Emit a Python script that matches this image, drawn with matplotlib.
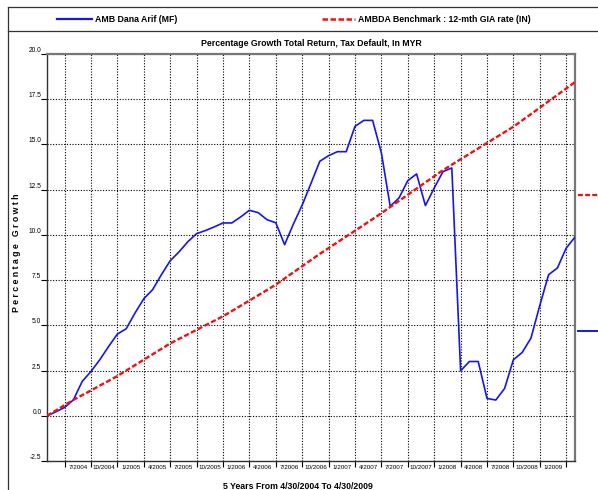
import numpy as np
import matplotlib
matplotlib.use('Agg')
import matplotlib.pyplot as plt
from matplotlib.lines import Line2D

plt.rcParams['font.family'] = ['Liberation Sans Narrow', 'Liberation Sans', 'DejaVu Sans']

# month index 0 = 4/30/2004 ... 60 = 4/30/2009
months = np.arange(61)

fund = [0.00, 0.22, 0.46, 0.88, 1.90, 2.45, 3.10, 3.83, 4.52, 4.81,
        5.68, 6.47, 6.97, 7.80, 8.57, 9.06, 9.62, 10.07, 10.24, 10.44,
        10.66, 10.66, 10.99, 11.36, 11.23, 10.84, 10.67, 9.46, 10.60, 11.65,
        12.85, 14.07, 14.38, 14.60, 14.60, 16.00, 16.33, 16.33, 14.53, 11.58,
        12.04, 13.00, 13.37, 11.62, 12.59, 13.50, 13.70, 2.49, 3.00, 3.00,
        0.96, 0.87, 1.51, 3.10, 3.50, 4.30, 6.10, 7.80, 8.17, 9.27,
        9.88]

bench = [0.00, 0.29, 0.59, 0.88, 1.14, 1.40, 1.67, 1.93, 2.20, 2.50,
         2.80, 3.10, 3.40, 3.70, 4.00, 4.25, 4.50, 4.75, 5.00, 5.25,
         5.50, 5.79, 6.08, 6.37, 6.66, 6.95, 7.25, 7.59, 7.93, 8.27,
         8.61, 8.95, 9.27, 9.59, 9.91, 10.23, 10.55, 10.87, 11.20, 11.54,
         11.88, 12.22, 12.56, 12.90, 13.24, 13.58, 13.88, 14.18, 14.48, 14.78,
         15.08, 15.38, 15.68, 15.98, 16.33, 16.68, 17.03, 17.39, 17.74, 18.09,
         18.45]

quarter_labels = ['7/2004', '10/2004', '1/2005', '4/2005', '7/2005', '10/2005',
                  '1/2006', '4/2006', '7/2006', '10/2006', '1/2007', '4/2007',
                  '7/2007', '10/2007', '1/2008', '4/2008', '7/2008', '10/2008',
                  '1/2009']
quarter_ticks = [2 + 3 * i for i in range(len(quarter_labels) + 1)]
label_pos = [t + 1.5 for t in quarter_ticks[:-1]]

ytick_vals = [-2.5, 0.0, 2.5, 5.0, 7.5, 10.0, 12.5, 15.0, 17.5, 20.0]

fig = plt.figure(figsize=(5.98, 4.90), dpi=100)
ax = fig.add_axes([47 / 598, 1 - 461 / 490, 528 / 598, 407 / 490])

ax.plot(months, fund, color='#1515ee', lw=1.2, zorder=3)
ax.plot(months, bench, color='#ee1111', lw=1.7, dashes=(2.2, 1.0), zorder=3)

ax.set_xlim(0, 60)
ax.set_ylim(-2.5, 20)

ax.set_xticks(quarter_ticks)
ax.set_xticklabels([])
ax.set_xticks(label_pos, minor=True)
ax.set_xticklabels(quarter_labels, minor=True, fontsize=4.5)
ax.tick_params(axis='x', which='major', length=4, width=0.8, direction='out')
ax.tick_params(axis='x', which='minor', length=0, pad=3)

ax.set_yticks(ytick_vals)
ax.set_yticklabels(['%.1f' % v for v in ytick_vals], fontsize=4.8)
for lab in ax.get_yticklabels():
    lab.set_verticalalignment('bottom')
ax.tick_params(axis='y', length=4, width=0.8, pad=0)

ax.grid(True, which='major', linestyle=(0, (1, 1.5)), color='black', lw=0.8)

for side in ['left', 'bottom']:
    ax.spines[side].set_color('#333333')
    ax.spines[side].set_linewidth(1.0)
for side in ['top', 'right']:
    ax.spines[side].set_color('#777777')
    ax.spines[side].set_linewidth(1.6)

ax.set_title('Percentage Growth Total Return, Tax Default, In MYR',
             fontsize=6.3, fontweight='bold', pad=6)
fig.text(298 / 598, 1 - 486 / 490, '5 Years From 4/30/2004 To 4/30/2009',
         ha='center', va='center', fontsize=6.3, fontweight='bold')
fig.text(17 / 598, 1 - 253 / 490, 'P e r c e n t a g e   G r o w t h',
         rotation=90, ha='center', va='center', fontsize=6.3, fontweight='bold')

# outer frame and legend strip
fig.add_artist(Line2D([8 / 598, 8 / 598], [0, 1 - 7 / 490], color='#333333', lw=0.9))
fig.add_artist(Line2D([8 / 598, 1], [1 - 7 / 490, 1 - 7 / 490], color='#333333', lw=0.9))
fig.add_artist(Line2D([8 / 598, 1], [1 - 31 / 490, 1 - 31 / 490], color='#333333', lw=0.9))

fig.add_artist(Line2D([57 / 598, 92 / 598], [1 - 19 / 490, 1 - 19 / 490],
                      color='#1515ee', lw=1.6))
fig.text(95 / 598, 1 - 19 / 490, 'AMB Dana Arif (MF)', fontsize=6.3,
         fontweight='bold', va='center')
fig.add_artist(Line2D([322 / 598, 355 / 598], [1 - 19 / 490, 1 - 19 / 490],
                      color='#ee1111', lw=1.8, dashes=(2.2, 1.0)))
fig.text(358 / 598, 1 - 19 / 490, 'AMBDA Benchmark : 12-mth GIA rate (IN)',
         fontsize=6.3, fontweight='bold', va='center')

# end markers cut off at the right edge
fig.add_artist(Line2D([578 / 598, 1], [1 - 195 / 490, 1 - 195 / 490],
                      color='#ee1111', lw=1.6, dashes=(2.2, 1.0)))
fig.add_artist(Line2D([578 / 598, 1], [1 - 331 / 490, 1 - 331 / 490],
                      color='#1515ee', lw=1.4))

fig.savefig('out.png', dpi=100)
